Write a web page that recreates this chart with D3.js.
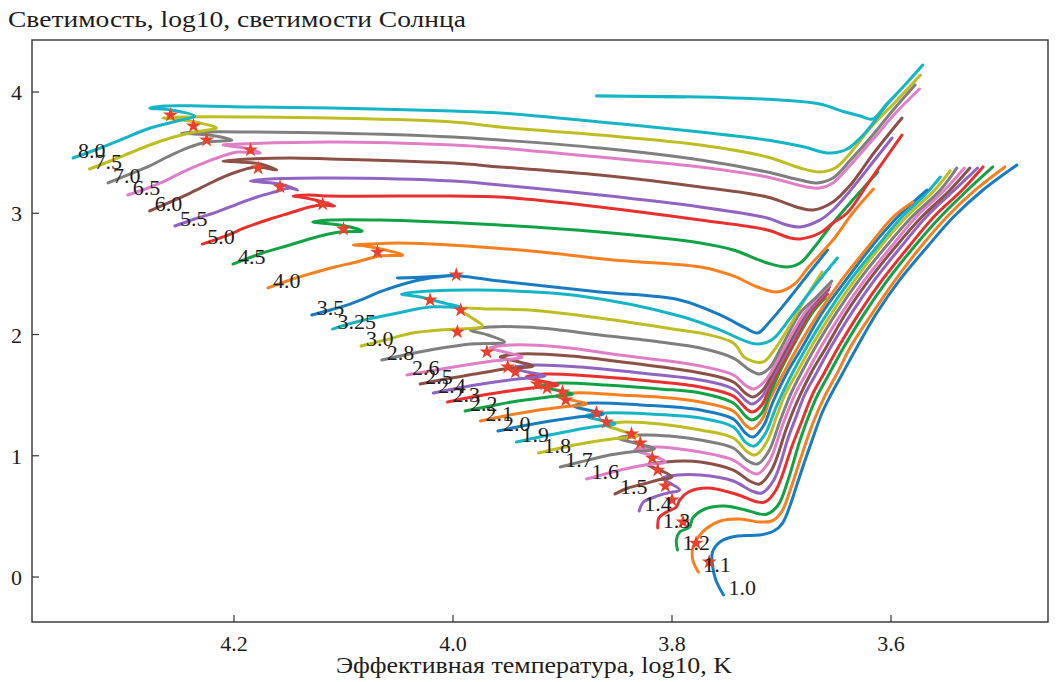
<!DOCTYPE html>
<html>
<head>
<meta charset="utf-8">
<script src="https://cdn.jsdelivr.net/npm/d3@7"></script>
<style>
  body { margin: 0; background: #ffffff; }
  svg { display: block; }
  text { font-family: "Liberation Serif", "Times New Roman", serif; fill: #1d1d1d; }
</style>
</head>
<body>
<svg id="chart" width="1056" height="682"></svg>
<script>
// Evolutionary tracks on the HR diagram: each point is [log10 Teff (K), log10 L/Lsun]
const masses = ["1.0", "1.1", "1.2", "1.3", "1.4", "1.5", "1.6", "1.7", "1.8", "1.9",
                "2.0", "2.1", "2.2", "2.3", "2.4", "2.5", "2.6", "2.8", "3.0", "3.25",
                "3.5", "4.0", "4.5", "5.0", "5.5", "6.0", "6.5", "7.0", "7.5", "8.0"];

const track_1_0 = [[3.753,-0.148],[3.760,-0.025],[3.763,0.099],[3.763,0.206],[3.755,0.297],[3.740,0.338],[3.720,0.346],[3.707,0.379],[3.699,0.445],[3.692,0.594],[3.686,0.759],[3.679,0.948],[3.672,1.130],[3.663,1.353],[3.655,1.501],[3.644,1.683],[3.631,1.897],[3.613,2.177],[3.592,2.450],[3.567,2.722],[3.543,2.969],[3.516,3.192],[3.485,3.398]];
const track_1_1 = [[3.776,0.041],[3.781,0.140],[3.781,0.239],[3.776,0.330],[3.768,0.404],[3.756,0.462],[3.738,0.478],[3.720,0.454],[3.709,0.462],[3.700,0.536],[3.692,0.718],[3.683,0.965],[3.672,1.254],[3.660,1.501],[3.649,1.683],[3.637,1.897],[3.617,2.177],[3.596,2.450],[3.573,2.722],[3.549,2.969],[3.523,3.192],[3.496,3.382]];
const track_1_2 = [[3.795,0.223],[3.796,0.305],[3.793,0.371],[3.784,0.412],[3.781,0.487],[3.770,0.561],[3.752,0.586],[3.733,0.553],[3.720,0.520],[3.713,0.520],[3.703,0.594],[3.694,0.800],[3.683,1.130],[3.673,1.377],[3.667,1.501],[3.656,1.683],[3.643,1.897],[3.624,2.177],[3.603,2.450],[3.579,2.722],[3.555,2.969],[3.530,3.192],[3.507,3.382]];
const track_1_3 = [[3.813,0.404],[3.812,0.487],[3.805,0.536],[3.796,0.577],[3.793,0.635],[3.785,0.701],[3.768,0.734],[3.742,0.685],[3.722,0.619],[3.715,0.619],[3.705,0.718],[3.690,1.089],[3.681,1.295],[3.672,1.501],[3.661,1.683],[3.648,1.897],[3.629,2.177],[3.608,2.450],[3.584,2.722],[3.561,2.969],[3.535,3.192],[3.516,3.382]];
const track_1_4 = [[3.830,0.544],[3.826,0.619],[3.816,0.660],[3.804,0.693],[3.793,0.718],[3.802,0.775],[3.809,0.817],[3.795,0.841],[3.774,0.841],[3.744,0.792],[3.727,0.709],[3.718,0.693],[3.707,0.800],[3.693,1.171],[3.686,1.336],[3.679,1.501],[3.668,1.683],[3.655,1.897],[3.636,2.177],[3.615,2.450],[3.591,2.722],[3.568,2.969],[3.542,3.192],[3.521,3.373]];
const track_1_5 = [[3.852,0.685],[3.840,0.734],[3.826,0.767],[3.813,0.800],[3.800,0.825],[3.811,0.882],[3.822,0.924],[3.806,0.948],[3.788,0.957],[3.774,0.948],[3.744,0.882],[3.729,0.792],[3.720,0.767],[3.709,0.882],[3.696,1.212],[3.689,1.377],[3.683,1.501],[3.673,1.683],[3.659,1.897],[3.641,2.177],[3.620,2.450],[3.596,2.722],[3.572,2.969],[3.546,3.192],[3.528,3.373]];
const track_1_6 = [[3.878,0.808],[3.861,0.850],[3.843,0.891],[3.825,0.924],[3.806,0.948],[3.820,1.006],[3.834,1.047],[3.816,1.072],[3.793,1.056],[3.774,1.031],[3.744,0.965],[3.731,0.882],[3.722,0.850],[3.711,0.957],[3.699,1.254],[3.688,1.501],[3.677,1.683],[3.664,1.897],[3.645,2.177],[3.624,2.450],[3.600,2.722],[3.577,2.969],[3.551,3.192],[3.533,3.373]];
const track_1_7 = [[3.902,0.907],[3.884,0.948],[3.861,0.998],[3.838,1.031],[3.816,1.056],[3.834,1.105],[3.849,1.146],[3.829,1.171],[3.802,1.163],[3.774,1.130],[3.744,1.064],[3.732,0.965],[3.722,0.932],[3.712,1.031],[3.701,1.295],[3.692,1.501],[3.682,1.683],[3.669,1.897],[3.650,2.177],[3.629,2.450],[3.605,2.722],[3.581,2.969],[3.555,3.192],[3.540,3.373]];
const track_1_8 = [[3.922,1.023],[3.902,1.064],[3.879,1.105],[3.855,1.138],[3.832,1.163],[3.848,1.212],[3.861,1.254],[3.843,1.278],[3.811,1.262],[3.774,1.212],[3.744,1.146],[3.732,1.039],[3.724,1.006],[3.714,1.105],[3.704,1.336],[3.697,1.501],[3.686,1.683],[3.673,1.897],[3.654,2.177],[3.633,2.450],[3.610,2.722],[3.586,2.969],[3.560,3.192],[3.546,3.349]];
const track_1_9 = [[3.942,1.113],[3.921,1.155],[3.898,1.196],[3.873,1.237],[3.852,1.262],[3.866,1.295],[3.879,1.328],[3.861,1.353],[3.820,1.344],[3.774,1.311],[3.744,1.237],[3.733,1.113],[3.725,1.080],[3.715,1.179],[3.706,1.377],[3.700,1.501],[3.690,1.683],[3.677,1.897],[3.658,2.177],[3.637,2.450],[3.613,2.722],[3.590,2.969],[3.569,3.151],[3.555,3.299]];
const track_2_0 = [[3.959,1.204],[3.937,1.245],[3.911,1.287],[3.886,1.320],[3.863,1.344],[3.877,1.377],[3.890,1.410],[3.873,1.435],[3.829,1.419],[3.774,1.377],[3.744,1.303],[3.733,1.188],[3.726,1.155],[3.716,1.254],[3.709,1.419],[3.705,1.501],[3.695,1.683],[3.681,1.897],[3.663,2.177],[3.641,2.450],[3.618,2.722],[3.594,2.969],[3.567,3.192]];
const track_2_1 = [[3.975,1.287],[3.953,1.328],[3.927,1.369],[3.900,1.402],[3.878,1.427],[3.892,1.460],[3.906,1.493],[3.889,1.518],[3.848,1.501],[3.802,1.476],[3.774,1.443],[3.744,1.369],[3.733,1.254],[3.727,1.221],[3.717,1.311],[3.711,1.460],[3.698,1.683],[3.685,1.897],[3.666,2.177],[3.645,2.450],[3.621,2.722],[3.598,2.969],[3.580,3.093]];
const track_2_2 = [[3.989,1.369],[3.966,1.410],[3.941,1.452],[3.913,1.485],[3.891,1.509],[3.906,1.542],[3.920,1.575],[3.902,1.600],[3.861,1.584],[3.811,1.551],[3.774,1.518],[3.744,1.435],[3.732,1.320],[3.727,1.295],[3.718,1.353],[3.711,1.501],[3.702,1.683],[3.690,1.897],[3.672,2.177],[3.660,2.301]];
const track_2_3 = [[4.005,1.443],[3.983,1.485],[3.955,1.526],[3.928,1.559],[3.904,1.584],[3.920,1.617],[3.933,1.650],[3.916,1.674],[3.875,1.658],[3.820,1.617],[3.774,1.567],[3.744,1.493],[3.732,1.386],[3.727,1.361],[3.718,1.419],[3.711,1.559],[3.704,1.683],[3.691,1.897],[3.674,2.177],[3.658,2.334]];
const track_2_4 = [[4.018,1.518],[3.995,1.559],[3.968,1.600],[3.941,1.633],[3.916,1.658],[3.932,1.691],[3.945,1.724],[3.928,1.748],[3.884,1.732],[3.829,1.683],[3.774,1.625],[3.744,1.551],[3.732,1.452],[3.727,1.427],[3.718,1.485],[3.706,1.683],[3.693,1.897],[3.676,2.177],[3.657,2.367]];
const track_2_5 = [[4.030,1.592],[4.007,1.633],[3.980,1.674],[3.953,1.716],[3.927,1.740],[3.943,1.781],[3.957,1.814],[3.939,1.839],[3.893,1.823],[3.838,1.765],[3.774,1.683],[3.744,1.608],[3.732,1.509],[3.726,1.485],[3.717,1.542],[3.708,1.683],[3.695,1.897],[3.678,2.177],[3.656,2.392]];
const track_2_6 = [[4.042,1.666],[4.021,1.699],[3.994,1.740],[3.964,1.781],[3.937,1.814],[3.953,1.856],[3.966,1.889],[3.948,1.913],[3.902,1.897],[3.848,1.831],[3.774,1.740],[3.744,1.666],[3.732,1.575],[3.725,1.551],[3.716,1.608],[3.710,1.683],[3.697,1.897],[3.679,2.177],[3.655,2.417]];
const track_2_8 = [[4.065,1.790],[4.044,1.831],[4.016,1.880],[3.984,1.922],[3.953,1.938],[3.968,1.996],[3.984,2.037],[3.966,2.062],[3.921,2.054],[3.866,1.996],[3.811,1.938],[3.774,1.889],[3.744,1.806],[3.729,1.707],[3.720,1.674],[3.711,1.724],[3.700,1.897],[3.683,2.177],[3.669,2.301],[3.654,2.441]];
const track_3_0 = [[4.084,1.905],[4.062,1.955],[4.037,2.012],[4.012,2.037],[3.996,2.045],[3.973,2.070],[3.984,2.144],[3.994,2.210],[3.966,2.210],[3.930,2.202],[3.866,2.136],[3.793,2.037],[3.774,2.012],[3.744,1.930],[3.733,1.806],[3.717,1.773],[3.708,1.856],[3.692,2.078],[3.679,2.285],[3.663,2.516]];
const track_3_25 = [[4.110,2.045],[4.092,2.095],[4.073,2.136],[4.046,2.186],[4.021,2.227],[3.994,2.227],[4.012,2.268],[4.030,2.309],[4.047,2.334],[4.021,2.359],[3.975,2.367],[3.884,2.318],[3.793,2.153],[3.756,2.037],[3.733,1.946],[3.722,1.922],[3.709,1.955],[3.692,2.136],[3.674,2.351],[3.649,2.631]];
const track_3_5 = [[4.129,2.161],[4.112,2.202],[4.097,2.243],[4.080,2.301],[4.067,2.351],[4.042,2.425],[4.021,2.466],[3.996,2.491],[4.021,2.474],[4.051,2.466],[4.026,2.474],[3.996,2.483],[3.957,2.441],[3.866,2.351],[3.793,2.285],[3.756,2.161],[3.733,2.054],[3.722,2.012],[3.711,2.103],[3.692,2.309],[3.674,2.516],[3.658,2.697]];
const track_4_0 = [[4.169,2.384],[4.149,2.450],[4.128,2.507],[4.108,2.557],[4.088,2.598],[4.067,2.648],[4.046,2.656],[4.062,2.697],[4.080,2.730],[4.091,2.738],[4.076,2.746],[4.051,2.755],[3.975,2.722],[3.911,2.672],[3.854,2.614],[3.774,2.557],[3.744,2.483],[3.722,2.392],[3.704,2.351],[3.688,2.417],[3.676,2.549],[3.653,2.779],[3.635,3.002],[3.616,3.200]];
const track_4_5 = [[4.201,2.581],[4.174,2.672],[4.149,2.738],[4.128,2.796],[4.103,2.845],[4.083,2.854],[4.103,2.903],[4.128,2.928],[4.112,2.944],[4.067,2.944],[3.975,2.911],[3.866,2.845],[3.774,2.755],[3.744,2.697],[3.713,2.590],[3.695,2.557],[3.683,2.590],[3.672,2.697],[3.653,2.920],[3.635,3.109],[3.612,3.340]];
const track_5_0 = [[4.229,2.746],[4.208,2.812],[4.188,2.887],[4.167,2.953],[4.149,3.002],[4.131,3.052],[4.119,3.068],[4.108,3.060],[4.126,3.109],[4.140,3.134],[4.146,3.142],[4.131,3.151],[4.112,3.142],[4.000,3.142],[3.957,3.134],[3.866,3.052],[3.774,2.944],[3.713,2.862],[3.692,2.796],[3.683,2.788],[3.665,2.837],[3.653,2.920],[3.640,3.002],[3.619,3.274],[3.604,3.464],[3.590,3.645]];
const track_5_5 = [[4.254,2.895],[4.236,2.953],[4.216,3.010],[4.197,3.076],[4.179,3.134],[4.163,3.175],[4.149,3.208],[4.142,3.192],[4.158,3.241],[4.176,3.258],[4.185,3.266],[4.167,3.283],[4.112,3.291],[4.000,3.266],[3.957,3.233],[3.866,3.151],[3.774,3.052],[3.713,2.961],[3.695,2.903],[3.683,2.887],[3.665,2.944],[3.653,3.027],[3.633,3.233],[3.615,3.439],[3.599,3.621]];
const track_6_0 = [[4.277,3.019],[4.258,3.093],[4.240,3.167],[4.225,3.233],[4.210,3.299],[4.195,3.349],[4.179,3.382],[4.161,3.357],[4.176,3.406],[4.195,3.423],[4.210,3.431],[4.185,3.448],[4.149,3.456],[4.112,3.448],[4.000,3.414],[3.957,3.382],[3.866,3.316],[3.774,3.217],[3.713,3.134],[3.683,3.043],[3.671,3.027],[3.653,3.093],[3.637,3.233],[3.615,3.505],[3.590,3.786]];
const track_6_5 = [[4.297,3.151],[4.281,3.200],[4.265,3.258],[4.247,3.340],[4.228,3.414],[4.213,3.464],[4.197,3.505],[4.176,3.497],[4.190,3.538],[4.204,3.555],[4.210,3.563],[4.195,3.571],[4.112,3.588],[4.000,3.563],[3.957,3.538],[3.866,3.464],[3.774,3.382],[3.713,3.299],[3.677,3.217],[3.665,3.208],[3.653,3.250],[3.637,3.398],[3.617,3.604],[3.595,3.835],[3.574,4.025]];
const track_7_0 = [[4.315,3.250],[4.297,3.316],[4.279,3.382],[4.261,3.464],[4.243,3.538],[4.225,3.588],[4.202,3.604],[4.217,3.637],[4.236,3.654],[4.248,3.662],[4.231,3.670],[4.185,3.670],[4.112,3.662],[4.000,3.629],[3.957,3.604],[3.866,3.538],[3.774,3.439],[3.713,3.340],[3.683,3.274],[3.668,3.250],[3.653,3.291],[3.637,3.439],[3.619,3.621],[3.598,3.852],[3.578,4.058]];
const track_7_5 = [[4.332,3.365],[4.313,3.431],[4.295,3.497],[4.277,3.563],[4.258,3.621],[4.236,3.670],[4.216,3.703],[4.231,3.744],[4.254,3.777],[4.265,3.786],[4.245,3.794],[4.185,3.794],[4.112,3.786],[4.000,3.753],[3.957,3.711],[3.866,3.645],[3.774,3.563],[3.713,3.464],[3.683,3.373],[3.665,3.340],[3.651,3.373],[3.637,3.497],[3.619,3.703],[3.596,3.918],[3.573,4.140]];
const track_8_0 = [[4.347,3.456],[4.327,3.522],[4.304,3.604],[4.279,3.695],[4.252,3.761],[4.236,3.802],[4.258,3.852],[4.277,3.868],[4.263,3.885],[4.231,3.885],[4.185,3.876],[4.112,3.868],[4.000,3.843],[3.957,3.827],[3.866,3.753],[3.774,3.670],[3.713,3.604],[3.679,3.546],[3.663,3.505],[3.654,3.497],[3.640,3.530],[3.628,3.621],[3.617,3.736],[3.604,3.893],[3.589,4.041],[3.571,4.223],[3.589,4.041],[3.604,3.901],[3.617,3.777],[3.628,3.802],[3.642,3.835],[3.665,3.901],[3.701,3.934],[3.756,3.955],[3.811,3.963],[3.869,3.967],[3.829,3.963],[3.788,3.959]];

const tracks = [track_1_0, track_1_1, track_1_2, track_1_3, track_1_4, track_1_5, track_1_6, track_1_7,
                track_1_8, track_1_9, track_2_0, track_2_1, track_2_2, track_2_3, track_2_4, track_2_5,
                track_2_6, track_2_8, track_3_0, track_3_25, track_3_5, track_4_0, track_4_5, track_5_0,
                track_5_5, track_6_0, track_6_5, track_7_0, track_7_5, track_8_0];

// Common-age points marked on the tracks
const agePoints = [[3.766,0.124],[3.778,0.280],[3.790,0.454],[3.800,0.635],[3.806,0.751],[3.813,0.882],
                   [3.818,0.981],[3.829,1.105],[3.837,1.179],[3.860,1.278],[3.869,1.353],[3.897,1.460],
                   [3.900,1.526],[3.914,1.559],[3.923,1.592],[3.943,1.691],[3.950,1.732],[3.969,1.856],
                   [3.996,2.021],[3.993,2.202],[4.021,2.285],[3.997,2.491],[4.069,2.680],[4.100,2.870],
                   [4.119,3.076],[4.158,3.217],[4.178,3.373],[4.185,3.522],[4.225,3.604],[4.237,3.720],
                   [4.258,3.810]];

const xTicks = [4.2, 4.0, 3.8, 3.6];
const yTicks = [0, 1, 2, 3, 4];
const yTitle = "Светимость, log10, светимости Солнца";
const xTitle = "Эффективная температура, log10, K";

const palette = ["#1a7cc0", "#f6801f", "#12a246", "#e8312f", "#9064c0",
                 "#8c5047", "#e07ec8", "#7f7f7f", "#bebe22", "#15b5c5"];

const frame = { left: 32, right: 1048, top: 40, bottom: 622 };

const x = d3.scaleLinear().domain([4.3845, 3.4566]).range([frame.left, frame.right]);
const y = d3.scaleLinear().domain([-0.371, 4.429]).range([frame.bottom, frame.top]);

const svg = d3.select("#chart");

svg.append("defs").append("clipPath").attr("id", "plot-clip")
  .append("rect")
  .attr("x", frame.left).attr("y", frame.top)
  .attr("width", frame.right - frame.left).attr("height", frame.bottom - frame.top);

const line = d3.line()
  .x(d => x(d[0]))
  .y(d => y(d[1]))
  .curve(d3.curveCatmullRom.alpha(0.5));

const plot = svg.append("g").attr("clip-path", "url(#plot-clip)");

plot.selectAll("path.track")
  .data(tracks)
  .join("path")
  .attr("class", "track")
  .attr("d", line)
  .attr("fill", "none")
  .attr("stroke", (d, i) => palette[i % palette.length])
  .attr("stroke-width", 3)
  .attr("stroke-linejoin", "round")
  .attr("stroke-linecap", "round");

const star = d3.symbol().type(d3.symbolStar).size(70);
plot.selectAll("path.age")
  .data(agePoints)
  .join("path")
  .attr("class", "age")
  .attr("d", star)
  .attr("transform", d => `translate(${x(d[0])},${y(d[1])})`)
  .attr("fill", "#e8422e");

plot.selectAll("text.mass")
  .data(tracks)
  .join("text")
  .attr("class", "mass")
  .attr("x", d => x(d[0][0]) + 5)
  .attr("y", d => y(d[0][1]))
  .attr("font-size", 22)
  .text((d, i) => masses[i]);

// Axes: ticks point into the plot
const axes = svg.append("g");
axes.append("rect")
  .attr("x", frame.left).attr("y", frame.top)
  .attr("width", frame.right - frame.left).attr("height", frame.bottom - frame.top)
  .attr("fill", "none").attr("stroke", "#333").attr("stroke-width", 1.4);

const fmt = d3.format(".1f");
axes.selectAll("line.xtick").data(xTicks).join("line")
  .attr("x1", d => x(d)).attr("x2", d => x(d))
  .attr("y1", frame.bottom).attr("y2", frame.bottom - 7)
  .attr("stroke", "#333").attr("stroke-width", 1.2);
axes.selectAll("text.xtick").data(xTicks).join("text")
  .attr("x", d => x(d)).attr("y", frame.bottom + 29)
  .attr("text-anchor", "middle").attr("font-size", 22)
  .text(d => fmt(d));

axes.selectAll("line.ytick").data(yTicks).join("line")
  .attr("x1", frame.left).attr("x2", frame.left + 7)
  .attr("y1", d => y(d)).attr("y2", d => y(d))
  .attr("stroke", "#333").attr("stroke-width", 1.2);
axes.selectAll("text.ytick").data(yTicks).join("text")
  .attr("x", frame.left - 10).attr("y", d => y(d) + 8)
  .attr("text-anchor", "end").attr("font-size", 22)
  .text(d => d);

svg.append("text").attr("x", 8).attr("y", 27).attr("font-size", 23)
  .attr("textLength", 458).attr("lengthAdjust", "spacingAndGlyphs").text(yTitle);
svg.append("text").attr("x", 336).attr("y", 673).attr("font-size", 23)
  .attr("textLength", 396).attr("lengthAdjust", "spacingAndGlyphs").text(xTitle);
</script>
</body>
</html>
